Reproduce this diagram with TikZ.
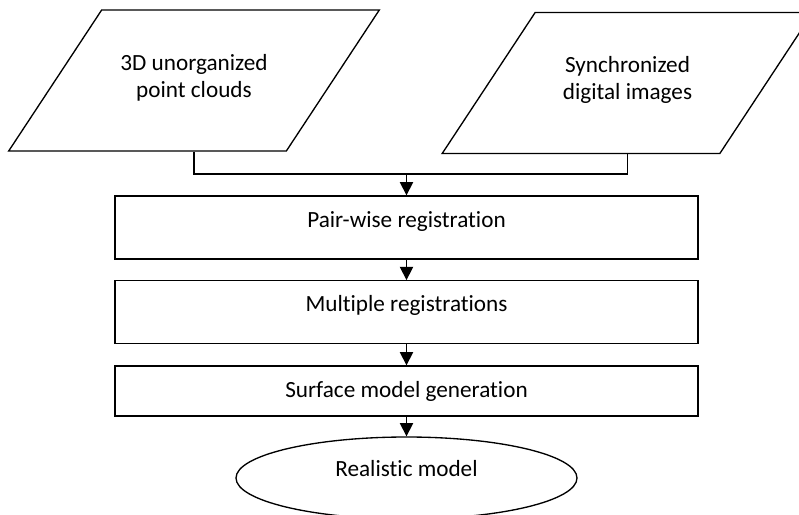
\documentclass[tikz,border=0pt]{standalone}
\usepackage{fontspec}
\setmainfont{Carlito}[Ligatures=NoCommon]
\usepackage{tikz}
\usetikzlibrary{arrows.meta,shapes.geometric}

\tikzset{
  datain/.style={draw, trapezium, trapezium left angle=56.6, trapezium right angle=123.4,
    text width=138.5pt, align=flush center, inner sep=0pt,
    text height=45pt, text depth=60.75pt},
  stepbox/.style={draw, rectangle, minimum width=437.25pt, inner sep=0pt, text height=23.25pt},
  endnode/.style={draw, ellipse, minimum width=255.75pt, minimum height=61.5pt,
    inner sep=0pt, text height=12pt, text depth=15pt},
}

\begin{document}
\begin{tikzpicture}[x=0.75pt, y=-0.75pt, line width=1pt,
  >={Triangle[width=10pt,length=10pt]},
  font=\fontsize{17.4}{20.25}\selectfont]
\useasboundingbox (0,0) rectangle (799,514);
\node [datain] (pc) at (194,80.5) {3D unorganized\\point clouds};
\node [datain] (di) at (627.5,83) {Synchronized\\digital images};
\node [stepbox, text depth=24pt] (pr) at (406.5,227.5) {Pair-wise registration};
\node [stepbox, text depth=23.6pt] (mr) at (406.5,312) {Multiple registrations};
\node [stepbox, text depth=14.25pt] (sm) at (406.5,391) {Surface model generation};
\node [endnode] (rm) at (406.5,478) {Realistic model};
\coordinate (join) at (406.5,174);
\draw (pc.south -| pc.center) |- (join) -| (di.south -| di.center);
\draw [->] (join) -- (pr);
\draw [->] (pr) edge (mr);
\draw [->] (mr) edge (sm);
\draw [->] (sm) edge (rm);
\end{tikzpicture}
\end{document}
